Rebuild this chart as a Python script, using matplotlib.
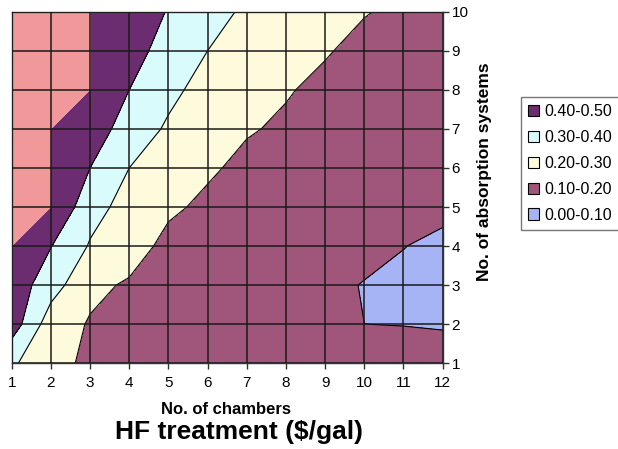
import numpy as np
import matplotlib
matplotlib.use('Agg')
import matplotlib.pyplot as plt
from matplotlib.patches import Patch

plt.rcParams['font.family'] = ['Liberation Sans', 'DejaVu Sans']

chambers = list(range(1, 13))
absorption_systems = list(range(1, 11))

# HF treatment cost ($/gal), one list per number of absorption systems (1..10),
# values across the number of chambers (1..12)
cost_abs1 = [0.310, 0.251, 0.169, 0.155, 0.146, 0.139, 0.133, 0.128, 0.120, 0.114, 0.110, 0.117]
cost_abs2 = [0.454, 0.246, 0.193, 0.170, 0.152, 0.139, 0.128, 0.118, 0.109, 0.10005, 0.0995, 0.097]
cost_abs3 = [0.460, 0.344, 0.220, 0.190, 0.170, 0.152, 0.136, 0.122, 0.1105, 0.098, 0.090, 0.085]
cost_abs4 = [0.500, 0.403, 0.292, 0.240, 0.1755, 0.158, 0.145, 0.130, 0.121, 0.1134, 0.101, 0.090]
cost_abs5 = [0.520, 0.500, 0.336, 0.265, 0.215, 0.183, 0.163, 0.149, 0.138, 0.128, 0.119, 0.111]
cost_abs6 = [0.530, 0.500, 0.400, 0.300, 0.245, 0.212, 0.180, 0.163, 0.150, 0.139, 0.130, 0.122]
cost_abs7 = [0.550, 0.500, 0.450, 0.359, 0.286, 0.245, 0.207, 0.188, 0.165, 0.152, 0.140, 0.131]
cost_abs8 = [0.580, 0.530, 0.500, 0.400, 0.325, 0.263, 0.232, 0.206, 0.182, 0.165, 0.152, 0.142]
cost_abs9 = [0.610, 0.540, 0.500, 0.430, 0.370, 0.300, 0.262, 0.235, 0.206, 0.179, 0.165, 0.155]
cost_abs10 = [0.640, 0.560, 0.500, 0.445, 0.396, 0.345, 0.281, 0.245, 0.222, 0.204, 0.185, 0.170]

band_edges = [0.0, 0.1, 0.2, 0.3, 0.4, 0.5, 1.0]
band_colors = ['#A6B4F5', '#A0557A', '#FEFADC', '#D9FBFB', '#6C2D70', '#F1989B']
legend_labels = ['0.40-0.50', '0.30-0.40', '0.20-0.30', '0.10-0.20', '0.00-0.10']

Z = np.array([cost_abs1, cost_abs2, cost_abs3, cost_abs4, cost_abs5,
              cost_abs6, cost_abs7, cost_abs8, cost_abs9, cost_abs10])
X, Y = np.meshgrid(chambers, absorption_systems)

fig = plt.figure(figsize=(6.18, 4.49), dpi=100)
ax = fig.add_axes([0.0189, 0.1909, 0.6974, 0.7831])

ax.contourf(X, Y, Z, levels=band_edges, colors=band_colors)
ax.contour(X, Y, Z, levels=band_edges[1:5], colors='black', linewidths=0.8)

ax.set_xlim(1, 12)
ax.set_ylim(1, 10)
ax.set_xticks(chambers)
ax.set_yticks(absorption_systems)
ax.grid(True, color='#1a1a1a', linewidth=1.1)
ax.set_axisbelow(False)

ax.yaxis.tick_right()
ax.tick_params(direction='out', length=4.5, width=1, color='#333333',
               labelsize=11, labelcolor='black')
ax.tick_params(axis='y', pad=2)
ax.tick_params(axis='x', pad=5)
for s in ax.spines.values():
    s.set_color('#333333')
    s.set_linewidth(1)

fig.text(484 / 618, 1 - 171.5 / 449, 'No. of absorption systems', rotation=90,
         ha='center', va='center', fontsize=12.5, fontweight='bold')
fig.text(226 / 618, 1 - 409 / 449, 'No. of chambers',
         ha='center', va='center', fontsize=12, fontweight='bold')
fig.text(239 / 618, 1 - 432 / 449, 'HF treatment ($/gal)',
         ha='center', va='center', fontsize=19, fontweight='bold')

handles = [Patch(facecolor=c, edgecolor='black', linewidth=0.8)
           for c in band_colors[4:0:-1] + [band_colors[0]]]
fig.legend(handles, legend_labels, loc='upper left',
           bbox_to_anchor=(521 / 618, 1 - 97 / 449), frameon=True,
           fancybox=False, edgecolor='#555555', borderpad=0.45,
           labelspacing=0.68, handlelength=0.7, handleheight=0.7,
           handletextpad=0.3, fontsize=11.5, borderaxespad=0)

plt.savefig('out.png', dpi=100)
